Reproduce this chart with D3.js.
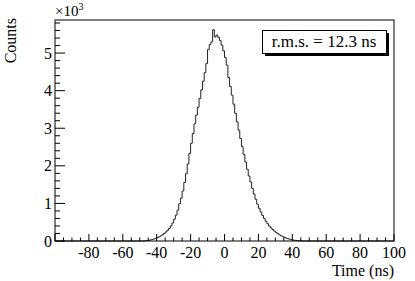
<!DOCTYPE html>
<html>
<head>
<meta charset="utf-8">
<script src="https://cdn.jsdelivr.net/npm/d3@7"></script>
<style>
  body { margin: 0; background: #fff; }
  text { font-family: "Liberation Serif", "Times New Roman", serif; fill: #000; }
</style>
</head>
<body>
<div id="chart"></div>
<script>
// histogram: 1 ns bins, first bin starts at -50 ns
const binStart = -50;
const binWidth = 1;
const counts = [
  0, 0, 2, 5, 10, 18, 28, 40, 55, 70,              // -50 .. -41
  90, 110, 135, 165, 200, 240, 285, 335, 400, 480, // -40 .. -31
  580, 690, 820, 990, 1140, 1330, 1560, 1790, 2050, 2330, // -30 .. -21
  2600, 2860, 3120, 3350, 3560, 3790, 4020, 4250, 4480, 4720, // -20 .. -11
  5100, 5230, 5300, 5620, 5430, 5480, 5420, 5330, 5210, 5060, // -10 .. -1
  4880, 4680, 4350, 4110, 3880, 3640, 3400, 3170, 2950, 2730, // 0 .. 9
  2510, 2300, 2100, 1910, 1730, 1570, 1400, 1250, 1110, 980,  // 10 .. 19
  870, 770, 680, 600, 525, 460, 400, 350, 305, 265,           // 20 .. 29
  230, 195, 165, 140, 115, 95, 78, 62, 48, 36,                // 30 .. 39
  27, 19, 13, 8, 5, 3, 1, 0                                   // 40 .. 47
];
const xTickLabels = [-80, -60, -40, -20, 0, 20, 40, 60, 80, 100];
const yTickLabels = [0, 1, 2, 3, 4, 5];
const legendText = "r.m.s. = 12.3 ns";

const width = 415;
const height = 281;
const margin = { top: 20, right: 21, bottom: 40, left: 55 };

const svg = d3.select("#chart")
  .append("svg")
  .attr("width", width)
  .attr("height", height);

const x = d3.scaleLinear()
  .domain([-100, 100])
  .range([margin.left, width - margin.right]);

const y = d3.scaleLinear()
  .domain([0, 5880])
  .range([height - margin.bottom, margin.top]);

// step outline over the full axis range
const pts = [[-100, 0]];
counts.forEach((c, i) => {
  const lo = binStart + i * binWidth;
  pts.push([lo, c]);
  pts.push([lo + binWidth, c]);
});
pts.push([binStart + counts.length * binWidth, 0]);
pts.push([100, 0]);

svg.append("path")
  .datum(pts)
  .attr("fill", "none")
  .attr("stroke", "#222")
  .attr("stroke-width", 1)
  .attr("d", d3.line().x(d => x(d[0])).y(d => y(d[1])));

// frame
svg.append("rect")
  .attr("x", x(-100))
  .attr("y", y(5880))
  .attr("width", x(100) - x(-100))
  .attr("height", y(0) - y(5880))
  .attr("fill", "none")
  .attr("stroke", "#000")
  .attr("stroke-width", 1);

// x axis ticks
const xMinor = d3.range(-100, 101, 5);
svg.append("g")
  .selectAll("line")
  .data(xMinor)
  .enter()
  .append("line")
  .attr("x1", d => x(d))
  .attr("x2", d => x(d))
  .attr("y1", y(0))
  .attr("y2", d => y(0) - (d % 20 === 0 ? 7 : 3.5))
  .attr("stroke", "#000");

svg.append("g")
  .selectAll("text")
  .data(xTickLabels)
  .enter()
  .append("text")
  .attr("x", d => x(d))
  .attr("y", 258)
  .attr("text-anchor", "middle")
  .style("font-size", "16px")
  .text(d => d);

// y axis ticks
const yMinor = d3.range(0, 5801, 200);
svg.append("g")
  .selectAll("line")
  .data(yMinor)
  .enter()
  .append("line")
  .attr("x1", x(-100))
  .attr("x2", d => x(-100) + (d % 1000 === 0 ? 10 : 5))
  .attr("y1", d => y(d))
  .attr("y2", d => y(d))
  .attr("stroke", "#000");

svg.append("g")
  .selectAll("text")
  .data(yTickLabels)
  .enter()
  .append("text")
  .attr("x", 52)
  .attr("y", d => y(d * 1000) + 5.5)
  .attr("text-anchor", "end")
  .style("font-size", "16px")
  .text(d => d);

// exponent label
const expo = svg.append("text")
  .attr("x", 55)
  .attr("y", 16)
  .style("font-size", "15px");
expo.append("tspan").text("\u00d710");
expo.append("tspan")
  .attr("dy", -6)
  .style("font-size", "10px")
  .text("3");

// axis titles
svg.append("text")
  .attr("x", width - margin.right)
  .attr("y", 276)
  .attr("text-anchor", "end")
  .style("font-size", "16px")
  .text("Time (ns)");

svg.append("text")
  .attr("transform", "translate(16,18) rotate(-90)")
  .attr("text-anchor", "end")
  .style("font-size", "16px")
  .text("Counts");

// legend box with shadow
const box = { x: 262, y: 30, w: 124, h: 23 };
svg.append("rect")
  .attr("x", box.x + 3)
  .attr("y", box.y + 3)
  .attr("width", box.w)
  .attr("height", box.h)
  .attr("fill", "#000");
svg.append("rect")
  .attr("x", box.x + 0.5)
  .attr("y", box.y + 0.5)
  .attr("width", box.w)
  .attr("height", box.h)
  .attr("fill", "#fff")
  .attr("stroke", "#000");
svg.append("text")
  .attr("x", box.x + box.w / 2)
  .attr("y", box.y + 17)
  .attr("text-anchor", "middle")
  .style("font-size", "17px")
  .text(legendText);
</script>
</body>
</html>
